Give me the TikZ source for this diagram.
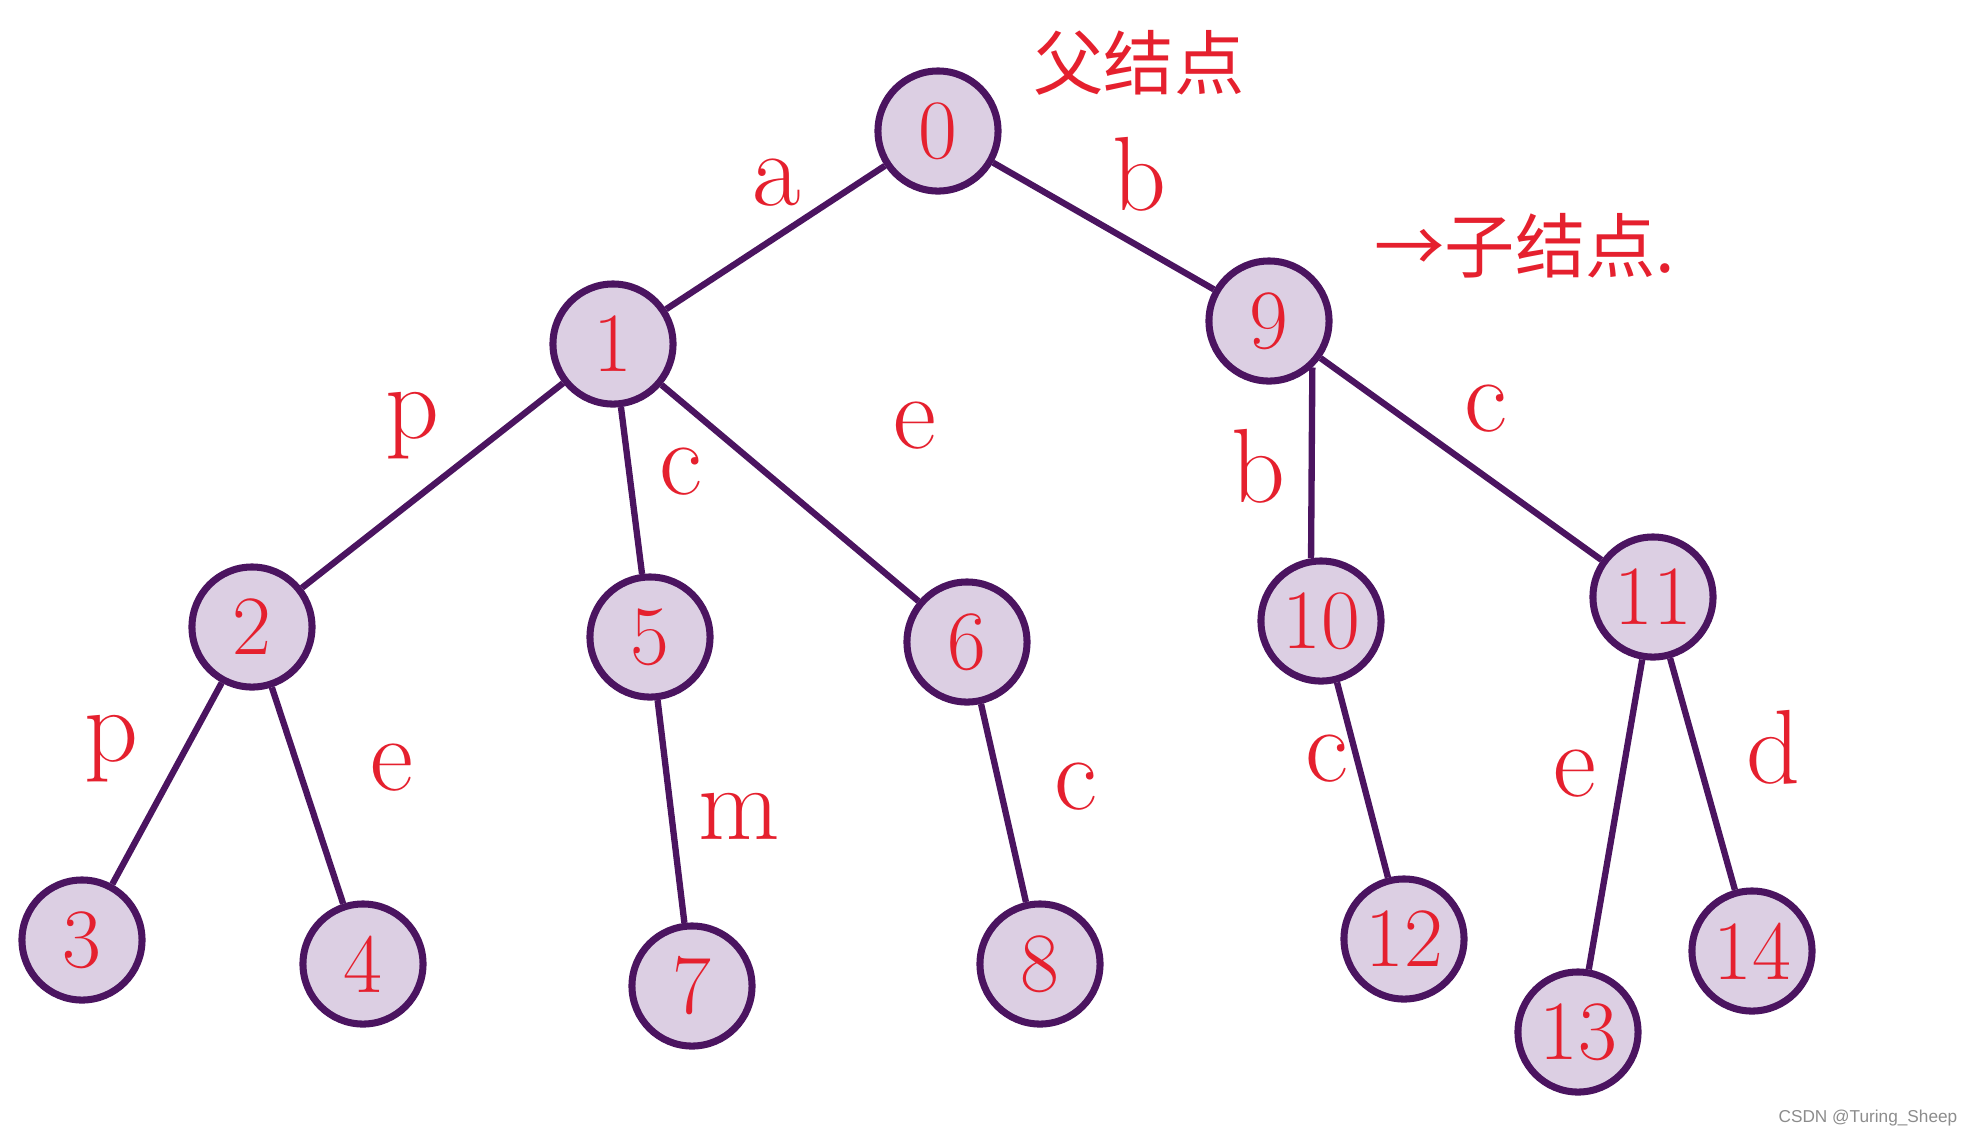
\documentclass[tikz,border=0pt]{standalone}
\usepackage{fontspec}
\usepackage{tikz}
\usetikzlibrary{positioning}
\newfontfamily\cjk{Noto Sans CJK SC}
\newfontfamily\wmfont{Liberation Sans}
\definecolor{TrieFill}{HTML}{DCCFE3}
\definecolor{TrieLine}{HTML}{4B1460}
\definecolor{TrieRed}{HTML}{E5202E}
\tikzset{
  tnode/.style={circle,draw=TrieLine,fill=TrieFill,line width=2pt,minimum size=1.2cm,inner sep=0pt,
    text=TrieRed,font=\fontsize{24}{24}\selectfont},
  tedge/.style={draw=TrieLine,line width=1.8pt},
  tlab/.style={text=TrieRed,font=\fontsize{30}{30}\selectfont}
}

\begin{document}
\begin{tikzpicture}[x=0.01cm,y=-0.01cm]
\useasboundingbox (0,0) rectangle (1974,1138);
% nodes
\node[tnode] (n0) at (938,131) {0};
\node[tnode] (n1) at (613,344) {1};
\node[tnode] (n9) at (1269,321) {9};
\node[tnode] (n2) at (252,627) {2};
\node[tnode] (n5) at (650,637) {5};
\node[tnode] (n6) at (967,642) {6};
\node[tnode] (n10) at (1321,621) {10};
\node[tnode] (n11) at (1653,597) {11};
\node[tnode] (n3) at (82,940) {3};
\node[tnode] (n4) at (363,964) {4};
\node[tnode] (n7) at (692,986) {7};
\node[tnode] (n8) at (1040,964) {8};
\node[tnode] (n12) at (1404,939) {12};
\node[tnode] (n13) at (1578,1032) {13};
\node[tnode] (n14) at (1752,951) {14};
% edges
\draw[tedge] (n0) -- (n1);
\draw[tedge] (n0) -- (n9);
\draw[tedge] (n1) -- (n2);
\draw[tedge] (n1) -- (n5);
\draw[tedge] (n1) -- (n6);
\draw[tedge] (n9.-47) -- (n10.99);
\draw[tedge] (n9) -- (n11);
\draw[tedge] (n2) -- (n3);
\draw[tedge] (n2) -- (n4);
\draw[tedge] (n5) -- (n7);
\draw[tedge] (n6) -- (n8);
\draw[tedge] (n10) -- (n12);
\draw[tedge] (n11) -- (n13);
\draw[tedge] (n11) -- (n14);
% edge labels
\node[tlab] (la) at (777,183) {a};
\node[tlab] (lb) at (1139,174) {b};
\node[tlab] (lp) at (412,426) {p};
\node[tlab] (lc) at (681,472) {c};
\node[tlab] (le) at (915,426) {e};
\node[tlab] (lb2) at (1258,466) {b};
\node[tlab] (lc2) at (1486,409) {c};
\node[tlab] (lp2) at (111,749) {p};
\node[tlab] (le2) at (392,768) {e};
\node[tlab] (lm) at (739,816) {m};
\node[tlab] (lc3) at (1076,787) {c};
\node[tlab] (lc4) at (1327,759) {c};
\node[tlab] (le3) at (1575,774) {e};
\node[tlab] (ld) at (1773,747) {d};
% notes
\node[text=TrieRed,font=\cjk\fontsize{20}{20}\selectfont] (fnote) at (1139,63) {父结点};
\node[text=TrieRed,font=\cjk\fontsize{20}{20}\selectfont] (cnote) at (1525,246) {→子结点.};
\node[text=black!45,font=\wmfont\fontsize{4.9}{6}\selectfont,anchor=east,inner sep=0pt] (wm) at (1958,1118) {CSDN @Turing\_Sheep};
\end{tikzpicture}
\end{document}
